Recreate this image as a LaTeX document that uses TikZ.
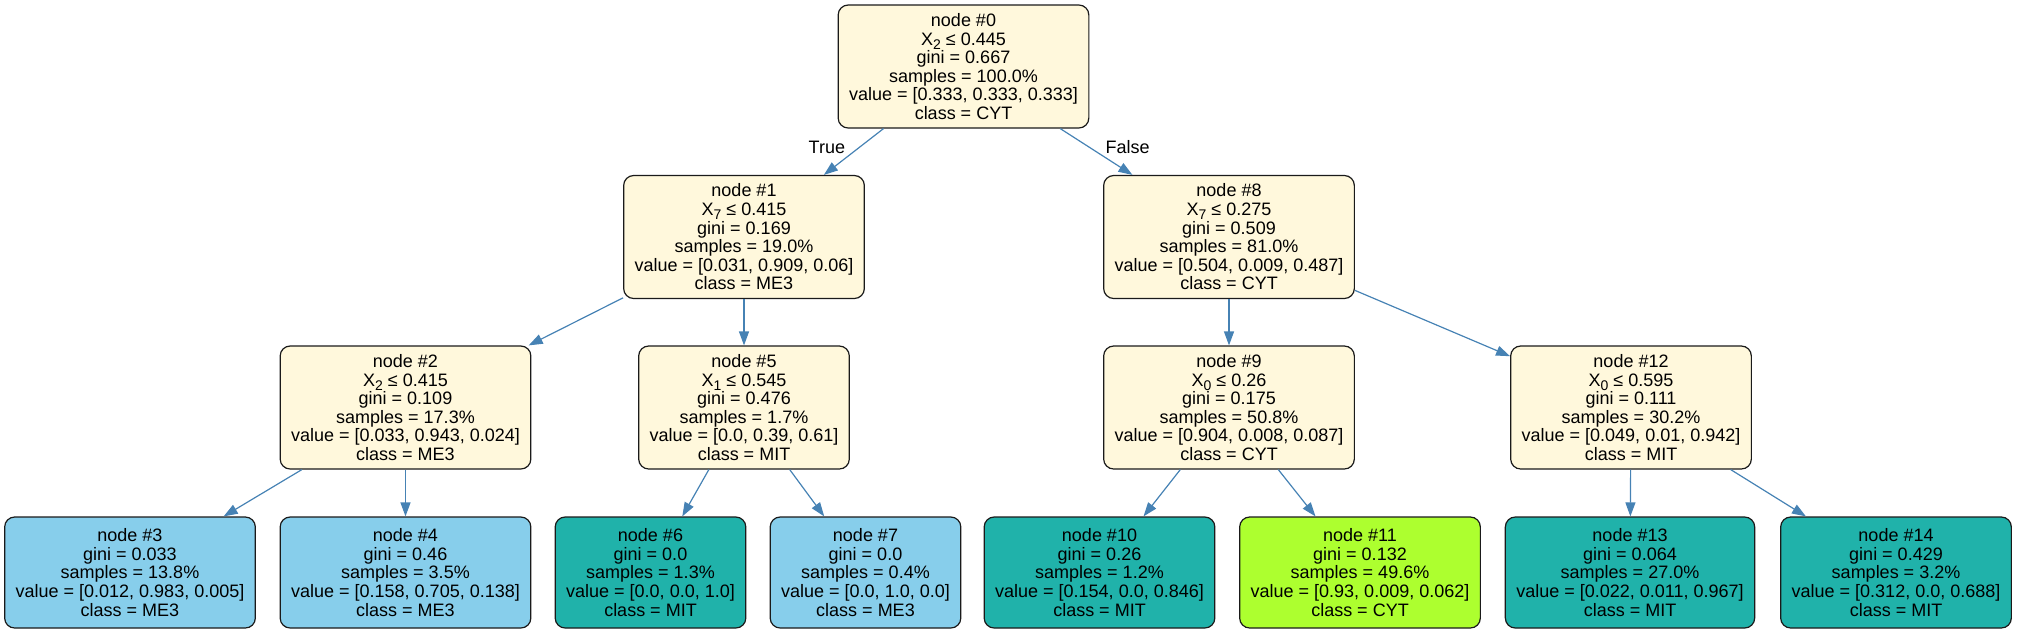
\documentclass[tikz,border=0pt]{standalone}
\usepackage{fontspec}
\setmainfont{Liberation Sans}
\usepackage{tikz}
\usetikzlibrary{arrows.meta}
\definecolor{SplitCream}{HTML}{FFF8DC}
\definecolor{LeafSky}{HTML}{87CEEB}
\definecolor{LeafTeal}{HTML}{20B2AA}
\definecolor{LeafLime}{HTML}{ADFF2F}
\definecolor{EdgeBlue}{HTML}{4682B4}
\definecolor{BoxGray}{HTML}{1A1A1A}
\newcommand{\xsub}[1]{\raisebox{-0.45ex}{\fontsize{7}{7}\selectfont#1}}

\begin{document}
\begin{tikzpicture}[x=0.5pt,y=-0.5pt,font=\fontsize{9}{9.3}\selectfont,
    box/.style={draw=BoxGray,line width=0.6pt,rounded corners=5pt,
      align=center,inner xsep=5.5pt,inner ysep=0pt},
    split/.style={box,fill=SplitCream,minimum height=61.5pt},
    leaf/.style={box,minimum height=55.5pt},
    me3/.style={leaf,fill=LeafSky},
    mit/.style={leaf,fill=LeafTeal},
    cyt/.style={leaf,fill=LeafLime},
    branch/.style={draw=EdgeBlue,line width=0.6pt,
      -{Triangle[length=7pt,width=5pt]}},
    lbl/.style={inner sep=0pt}]
    \useasboundingbox (0,0) rectangle (2017,633);

    % Root split.
    \node[split] (n0) at (963.5,66.5) {node \#0\\X\xsub{2} ≤ 0.445\\gini = 0.667\\samples = 100.0\%\\value = [0.333, 0.333, 0.333]\\class = CYT};

    % Second level.
    \node[split] (n1) at (744,237) {node \#1\\X\xsub{7} ≤ 0.415\\gini = 0.169\\samples = 19.0\%\\value = [0.031, 0.909, 0.06]\\class = ME3};
    \node[split] (n8) at (1229,237) {node \#8\\X\xsub{7} ≤ 0.275\\gini = 0.509\\samples = 81.0\%\\value = [0.504, 0.009, 0.487]\\class = CYT};

    % Third level.
    \node[split] (n2) at (405.5,407.5) {node \#2\\X\xsub{2} ≤ 0.415\\gini = 0.109\\samples = 17.3\%\\value = [0.033, 0.943, 0.024]\\class = ME3};
    \node[split] (n5) at (744,407.5) {node \#5\\X\xsub{1} ≤ 0.545\\gini = 0.476\\samples = 1.7\%\\value = [0.0, 0.39, 0.61]\\class = MIT};
    \node[split] (n9) at (1229,407.5) {node \#9\\X\xsub{0} ≤ 0.26\\gini = 0.175\\samples = 50.8\%\\value = [0.904, 0.008, 0.087]\\class = CYT};
    \node[split] (n12) at (1631,407.5) {node \#12\\X\xsub{0} ≤ 0.595\\gini = 0.111\\samples = 30.2\%\\value = [0.049, 0.01, 0.942]\\class = MIT};

    % Leaves.
    \node[me3] (n3) at (130,572.5) {node \#3\\gini = 0.033\\samples = 13.8\%\\value = [0.012, 0.983, 0.005]\\class = ME3};
    \node[me3] (n4) at (405.5,572.5) {node \#4\\gini = 0.46\\samples = 3.5\%\\value = [0.158, 0.705, 0.138]\\class = ME3};
    \node[mit] (n6) at (650.5,572.5) {node \#6\\gini = 0.0\\samples = 1.3\%\\value = [0.0, 0.0, 1.0]\\class = MIT};
    \node[me3] (n7) at (865.5,572.5) {node \#7\\gini = 0.0\\samples = 0.4\%\\value = [0.0, 1.0, 0.0]\\class = ME3};
    \node[mit] (n10) at (1099.5,572.5) {node \#10\\gini = 0.26\\samples = 1.2\%\\value = [0.154, 0.0, 0.846]\\class = MIT};
    \node[cyt] (n11) at (1360,572.5) {node \#11\\gini = 0.132\\samples = 49.6\%\\value = [0.93, 0.009, 0.062]\\class = CYT};
    \node[mit] (n13) at (1630,572.5) {node \#13\\gini = 0.064\\samples = 27.0\%\\value = [0.022, 0.011, 0.967]\\class = MIT};
    \node[mit] (n14) at (1896,572.5) {node \#14\\gini = 0.429\\samples = 3.2\%\\value = [0.312, 0.0, 0.688]\\class = MIT};

    % Branches.
    \draw[branch] (n0) -- node[lbl,pos=0.4,left=7pt] {True} (n1);
    \draw[branch] (n0) -- node[lbl,pos=0.4,right=8pt] {False} (n8);
    \draw[branch] (n1) -- (n2);
    \draw[branch] (n1) -- (n5);
    \draw[branch] (n2) -- (n3);
    \draw[branch] (n2) -- (n4);
    \draw[branch] (n5) -- (n6);
    \draw[branch] (n5) -- (n7);
    \draw[branch] (n8) -- (n9);
    \draw[branch] (n8) -- (n12);
    \draw[branch] (n9) -- (n10);
    \draw[branch] (n9) -- (n11);
    \draw[branch] (n12) -- (n13);
    \draw[branch] (n12) -- (n14);
\end{tikzpicture}
\end{document}
